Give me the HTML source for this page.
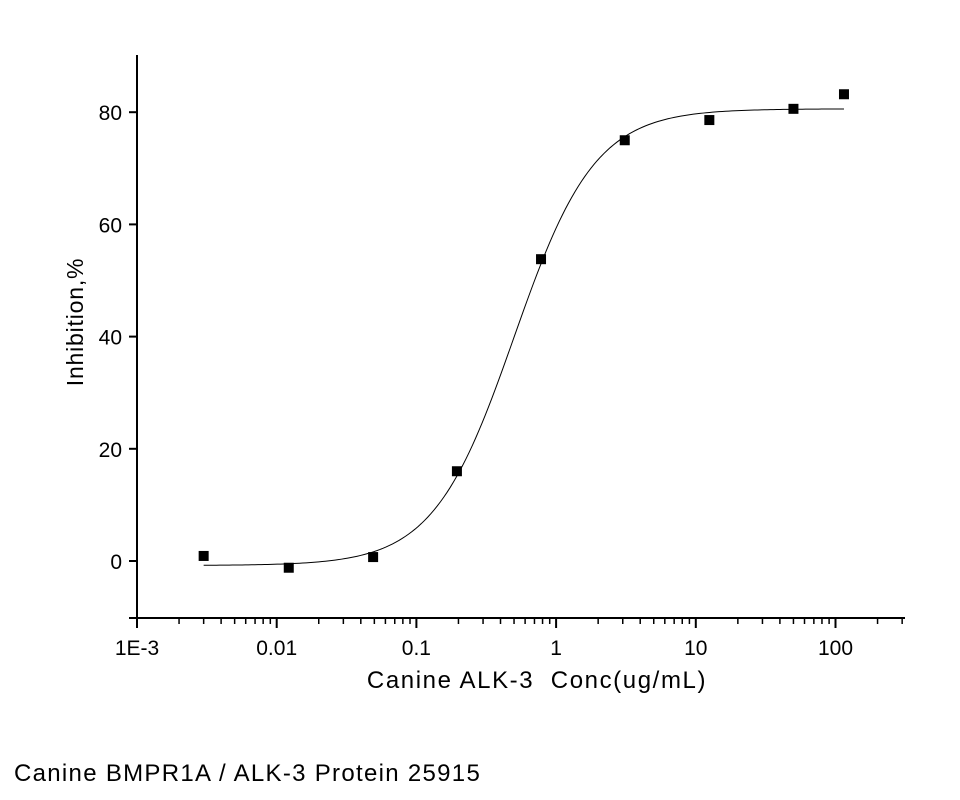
<!DOCTYPE html>
<html><head><meta charset="utf-8">
<style>
html,body{margin:0;padding:0;background:#fff;}
svg{display:block;font-family:"Liberation Sans",Arial,sans-serif;}
.cap{position:absolute;left:14px;top:762px;font-family:"Liberation Sans",sans-serif;font-size:24px;line-height:24px;letter-spacing:1.3px;color:#000;white-space:nowrap;}
</style></head>
<body>
<div style="position:relative;width:960px;height:800px;">
<svg id="chart" width="960" height="800"></svg>
<div class="cap">Canine BMPR1A / ALK-3 Protein 25915</div>
</div>
<script>
const concs = [0.003, 0.0122, 0.049, 0.195, 0.78, 3.1, 12.5, 50, 115];
const inhibition = [0.9, -1.2, 0.7, 16.0, 53.8, 75.0, 78.6, 80.6, 83.2];
const fitParams = [-0.8, 80.6, 0.5, 1.5]; // bottom, top, EC50, hill
const xTickValues = [0.001, 0.01, 0.1, 1, 10, 100];
const xTickLabels = ["1E-3", "0.01", "0.1", "1", "10", "100"];
const yTickValues = [0, 20, 40, 60, 80];
const yTickLabels = ["0", "20", "40", "60", "80"];

const NS = "http://www.w3.org/2000/svg";
const svgEl = document.getElementById("chart");
const X0 = 137, PXD = 139.7, Y0 = 561, PXU = 5.61;
const xs = v => X0 + (Math.log10(v) + 3) * PXD;
const ys = v => Y0 - v * PXU;
function mk(tag, attrs) { const e = document.createElementNS(NS, tag); for (const k in attrs) e.setAttribute(k, attrs[k]); svgEl.appendChild(e); return e; }

const yAxis = mk("line", {x1: X0, y1: 55, x2: X0, y2: 618, stroke: "#000", "stroke-width": 2});


const xAxis = mk("line", {x1: X0 - 1, y1: 618, x2: 905, y2: 618, stroke: "#000", "stroke-width": 2});



mk("line", {x1: X0 - 8, y1: 618, x2: X0, y2: 618, stroke: "#000", "stroke-width": 2});
yTickValues.forEach((v, i) => {
  const y = ys(v);
  const t = mk("line", {x1: X0 - 8, y1: y, x2: X0, y2: y, stroke: "#000", "stroke-width": 2});
  
  
  const l = mk("text", {x: X0 - 15, y: y + 8, "text-anchor": "end", "font-size": 21});
  l.textContent = yTickLabels[i];
  
  
});
xTickValues.forEach((v, i) => {
  const x = xs(v);
  const t = mk("line", {x1: x, y1: 618, x2: x, y2: 628, stroke: "#000", "stroke-width": 2});
  
  
  const l = mk("text", {x: x, y: 655, "text-anchor": "middle", "font-size": 21});
  l.textContent = xTickLabels[i];
  
  
  for (let m = 2; m <= 9; m++) {
    const xm = xs(v * m);
    if (xm > 905) break;
    const mt = mk("line", {x1: xm, y1: 618, x2: xm, y2: 624, stroke: "#000", "stroke-width": 1.5});
    
    
  }
});
const xt = mk("text", {x: 537, y: 688, "text-anchor": "middle", "font-size": 24, style: "white-space:pre;letter-spacing:1.6px"});
xt.textContent = "Canine ALK-3  Conc(ug/mL)";


const yt = mk("text", {x: 0, y: 0, "text-anchor": "middle", "font-size": 23, style: "letter-spacing:0.8px", transform: "translate(83,322) rotate(-90)"});
yt.textContent = "Inhibition,%";



const fitBottom = fitParams[0], fitTop = fitParams[1], fitEc = fitParams[2], fitHill = fitParams[3];
let d = "";
const lo = Math.log10(concs[0]), hi = Math.log10(concs[concs.length - 1]);
for (let i = 0; i <= 200; i++) {
  const c = Math.pow(10, lo + (hi - lo) * i / 200);
  const v = fitBottom + (fitTop - fitBottom) / (1 + Math.pow(fitEc / c, fitHill));
  d += (i ? "L" : "M") + xs(c).toFixed(2) + "," + ys(v).toFixed(2);
}
const curve = mk("path", {d: d, fill: "none", stroke: "#000", "stroke-width": 1});



concs.forEach((c, i) => {
  const p = mk("rect", {x: xs(c) - 5, y: ys(inhibition[i]) - 5, width: 10, height: 10, fill: "#000"});
  
  
});
</script>
</body></html>
